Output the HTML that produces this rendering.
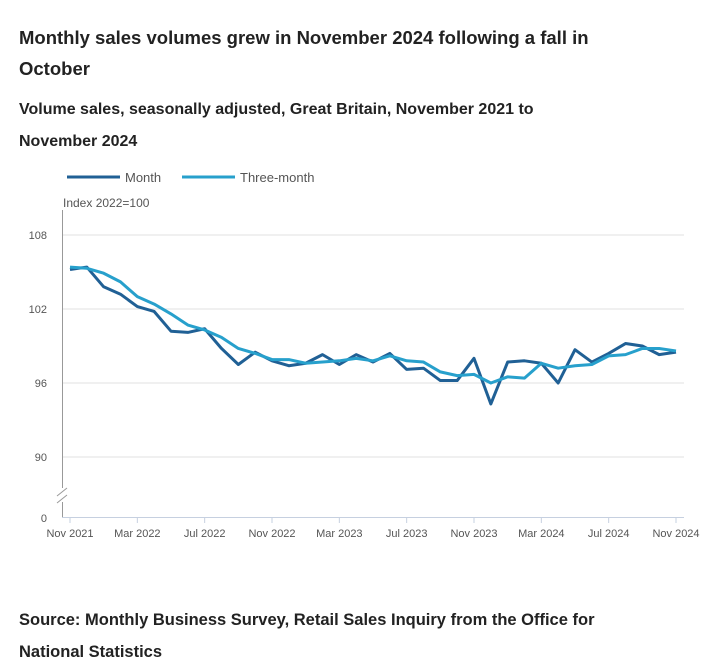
<!DOCTYPE html>
<html><head><meta charset="utf-8"><style>
body{margin:0;background:#fff;font-family:"Liberation Sans",sans-serif;color:#222;}
.t{position:absolute;left:19px;font-weight:bold;margin:0;}
</style></head><body>
<div style="position:relative;width:713px;height:664px;overflow:hidden">
<div class="t" style="top:22px;font-size:18.5px;line-height:31px;width:640px">Monthly sales volumes grew in November 2024 following a fall in October</div>
<div class="t" style="top:94px;font-size:16px;line-height:32px;width:560px">Volume sales, seasonally adjusted, Great Britain, November 2021 to November 2024</div>
<div class="t" style="top:604px;font-size:16.5px;line-height:32px;width:640px">Source: Monthly Business Survey, Retail Sales Inquiry from the Office for National Statistics</div>
<svg id="c" width="713" height="664" style="position:absolute;left:0;top:0" font-family="Liberation Sans, sans-serif">
<g>
<line x1="67" y1="177" x2="120" y2="177" stroke="#206095" stroke-width="3"/>
<text x="125" y="182" font-size="13" fill="#555">Month</text>
<line x1="182" y1="177" x2="235" y2="177" stroke="#27a0cc" stroke-width="3"/>
<text x="240" y="182" font-size="13" fill="#555">Three-month</text>
</g>
<text x="63" y="207" font-size="12" fill="#555">Index 2022=100</text>
<line x1="62.5" y1="210" x2="62.5" y2="517" stroke="#999"/>
<rect x="56" y="488" width="14" height="14" fill="#fff"/>
<path d="M57,496 L67,488 M57,503 L67,495" stroke="#999" fill="none"/>
<line x1="62" y1="517.5" x2="684" y2="517.5" stroke="#c6d0e0"/>
<text x="47" y="522" font-size="11" fill="#555" text-anchor="end">0</text>
<g id="grid"></g><g id="series"></g>
</svg>
</div>
<script>
const months=["Nov 2021","Dec 2021","Jan 2022","Feb 2022","Mar 2022","Apr 2022","May 2022","Jun 2022","Jul 2022","Aug 2022","Sep 2022","Oct 2022","Nov 2022","Dec 2022","Jan 2023","Feb 2023","Mar 2023","Apr 2023","May 2023","Jun 2023","Jul 2023","Aug 2023","Sep 2023","Oct 2023","Nov 2023","Dec 2023","Jan 2024","Feb 2024","Mar 2024","Apr 2024","May 2024","Jun 2024","Jul 2024","Aug 2024","Sep 2024","Oct 2024","Nov 2024"];
const monthValues=[105.2,105.4,103.8,103.2,102.2,101.8,100.2,100.1,100.4,98.8,97.5,98.5,97.8,97.4,97.6,98.3,97.5,98.3,97.7,98.4,97.1,97.2,96.2,96.2,98.0,94.3,97.7,97.8,97.6,96.0,98.7,97.7,98.4,99.2,99.0,98.3,98.5];
const threeMonthValues=[105.4,105.3,104.9,104.2,103.0,102.4,101.6,100.7,100.3,99.7,98.8,98.4,97.9,97.9,97.6,97.7,97.8,98.0,97.8,98.2,97.8,97.7,96.9,96.6,96.7,96.0,96.5,96.4,97.6,97.2,97.4,97.5,98.2,98.3,98.8,98.8,98.6];
const yTicks=[90,96,102,108];
const xTickIdx=[0,4,8,12,16,20,24,28,32,36];
const NS="http://www.w3.org/2000/svg";
const x=i=>70+i*(676-70)/36;
const y=v=>235+(108-v)*(457-235)/18;
const grid=document.getElementById('grid'),ser=document.getElementById('series');
function mk(tag,attrs,parent){const e=document.createElementNS(NS,tag);for(const k in attrs)e.setAttribute(k,attrs[k]);parent.appendChild(e);return e;}
yTicks.forEach(t=>{
 const l=mk('line',{x1:63,x2:684,y1:y(t),y2:y(t),stroke:'#e0e0e0'},grid);
 
 
 const tx=mk('text',{x:47,y:y(t)+4,'font-size':11,fill:'#555','text-anchor':'end'},grid);tx.textContent=t;
 
 
});
xTickIdx.forEach(i=>{
 const l=mk('line',{x1:x(i),x2:x(i),y1:517,y2:523,stroke:'#c6d0e0'},grid);
 
 
 const tx=mk('text',{x:x(i),y:537,'font-size':11,fill:'#555','text-anchor':'middle'},grid);tx.textContent=months[i];
 
 
});
function line(vals,color,name){
 const p=mk('polyline',{points:vals.map((v,i)=>x(i)+','+y(v)).join(' '),fill:'none',stroke:color,'stroke-width':3,'stroke-linejoin':'round'},ser);
 
 
}
line(monthValues,'#206095','month-line');
line(threeMonthValues,'#27a0cc','three-month-line');
</script>
</body></html>
